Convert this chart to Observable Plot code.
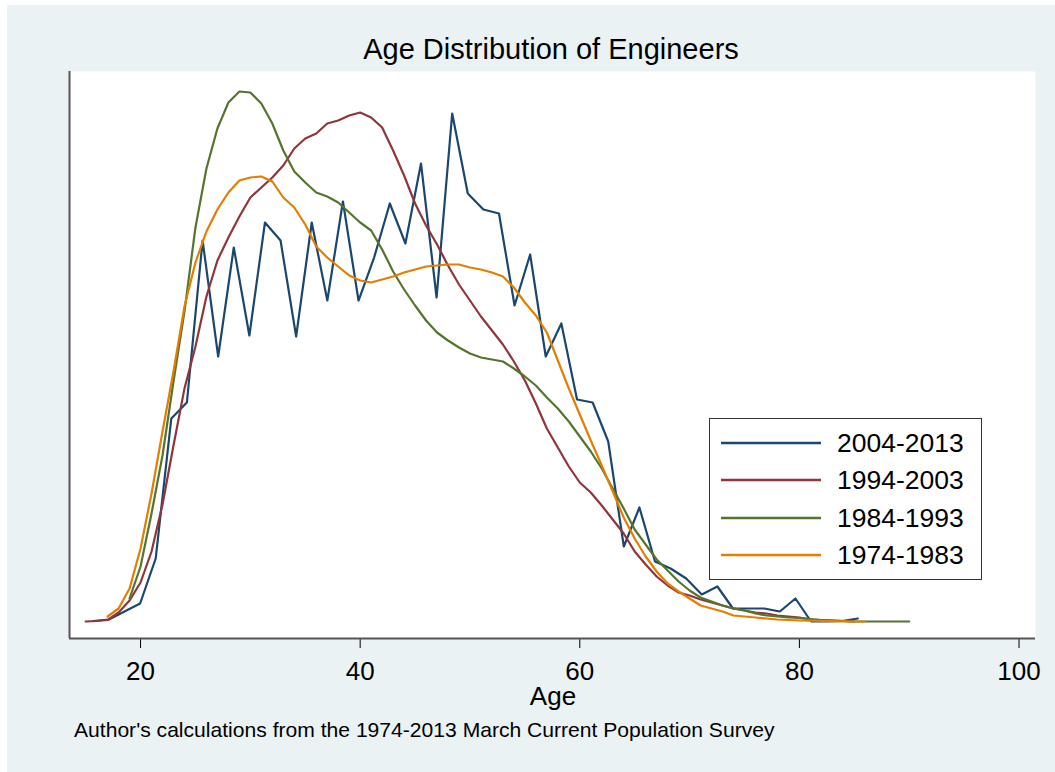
<!DOCTYPE html>
<html><head><meta charset="utf-8">
<script src="https://cdn.jsdelivr.net/npm/d3@7"></script>
<script src="https://cdn.jsdelivr.net/npm/@observablehq/plot@0.6"></script>
<style>
body{margin:0;background:#fff;font-family:"Liberation Sans",Arial,sans-serif;}
#wrap{position:relative;width:1055px;height:772px;overflow:hidden;}
#bg{position:absolute;left:7px;top:5px;right:0;bottom:0;background:#EAF2F3;}
#chart{position:absolute;left:0;top:0;}
.t{position:absolute;white-space:nowrap;line-height:1;color:#000;}
#legend{position:absolute;left:709px;top:418px;width:273px;height:162px;box-sizing:border-box;border:1.5px solid #333;background:#fff;}
#legend .sw{position:absolute;left:11px;width:100px;height:6px;}
#legend .lb{position:absolute;left:127px;font-size:26.5px;line-height:1;white-space:nowrap;}
</style></head>
<body><div id="wrap"><div id="bg"></div><div id="chart"></div>
<div class="t" id="title" style="left:0;width:1102px;text-align:center;top:35px;font-size:29px;">Age Distribution of Engineers</div>
<div class="t" id="xlab" style="left:0;width:1106px;text-align:center;top:683px;font-size:26px;">Age</div>
<div class="t" id="cap" style="left:74px;top:719px;font-size:21.1px;">Author's calculations from the 1974-2013 March Current Population Survey</div>
<div id="legend"></div>
</div>
<script>
// Series (kernel density of age, relative units)
const seriesNames = ["2004-2013", "1994-2003", "1984-1993", "1974-1983"];
const seriesColors = ["#1a476f", "#90353b", "#55752f", "#e37e00"];
const xTicks = [20, 40, 60, 80, 100];

// 2004-2013: 50 evaluation points
const agesA = [15.70,17.12,18.54,19.96,21.38,22.80,24.22,25.65,27.07,28.49,29.91,31.33,32.75,34.17,35.59,37.01,38.43,39.85,41.27,42.70,44.12,45.54,46.96,48.38,49.80,51.22,52.64,54.06,55.48,56.90,58.32,59.75,61.17,62.59,64.01,65.43,66.85,68.27,69.69,71.11,72.53,73.95,75.37,76.80,78.22,79.64,81.06,82.48,83.90,85.32];
const densA = [0.5,2,10,18,63,203,219,381,265,374,286,399,381,285,399,321,420,321,364,418,378,458,324,508,428,412,408,316,367,265,298,222,219,180,75,114,60,53,43,27,35,13,13,13,10,23,0,0,0.5,3];

// 1994-2003: ages 15..85
const startB = 15;
const densB = [0,0.5,1.5,9,21,39,70,117,176,233,275,325,361,384,405,424,434,444,456,473,483,488,498,501,506,509,504,494,471,446,418,396,377,356,337,321,305,291,277,260,241,218,193,174,155,139,129,116,102,88,70,57,45,36,29,26,22,19,16,13,11,9,8,6,5,4,2,1.5,1,0.5,0];

// 1984-1993: ages 19..90
const startC = 19;
const densC = [23,55,108,166,240,310,394,453,493,519,530,529,518,498,471,450,439,429,425,419,409,399,391,372,350,332,316,301,289,281,274,268,264,262,260,253,245,236,224,213,200,185,170,153,133,113,92,77,62,51,40,31,24,20,16,13,11,8,6,5,4,3.5,2.5,1.5,1,0.5,0,0,0,0,0,0];

// 1974-1983: ages 17..86
const startD = 17;
const densD = [5,13,33,73,128,190,250,315,359,390,412,429,441,444,445,440,424,414,397,375,364,355,346,341,339,342,345,349,352,355,356,357,357,354,352,349,345,334,319,306,289,261,233,207,181,156,130,104,83,65,50,38,30,23,16,13,10,6,5,4,3,2,1.5,1,0.8,0.6,0.4,0.2,0,0];

const toRows = (ages, vals) => vals.map((v, i) => ({age: ages[i], v}));
const seq = (start, vals) => vals.map((v, i) => ({age: start + i, v}));
const series = [toRows(agesA, densA), seq(startB, densB), seq(startC, densC), seq(startD, densD)];

const xDom = [13.53, 101.5];
const yDom = [-17, 550];

const chart = Plot.plot({
  width: 1055, height: 772,
  marginLeft: 69, marginRight: 20, marginTop: 71, marginBottom: 134,
  style: {background: "transparent", fontFamily: "Liberation Sans, Arial, sans-serif", color: "#000", overflow: "visible"},
  x: {domain: xDom},
  y: {domain: yDom, axis: null},
  marks: [
    Plot.frame({fill: "white", stroke: "none"}),
    Plot.axisX({ticks: xTicks, tickSize: 10, tickPadding: 13, fontSize: 26, label: null, tickFormat: d => String(d)}),
    Plot.ruleX([xDom[0]], {stroke: "#555", strokeWidth: 2}),
    Plot.ruleY([yDom[0]], {stroke: "#555", strokeWidth: 2}),
    ...series.map((s, i) => Plot.line(s, {x: "age", y: "v", stroke: seriesColors[i], strokeWidth: 2.2, curve: "linear"}))
  ]
});
document.getElementById("chart").appendChild(chart);

// legend
const lg = document.getElementById("legend");
seriesNames.forEach((name, i) => {
  const cy = 24 + i * 37.3;
  const sw = document.createElementNS("http://www.w3.org/2000/svg", "svg");
  sw.setAttribute("class", "sw");
  sw.setAttribute("width", "100"); sw.setAttribute("height", "6");
  sw.style.top = (cy - 3) + "px";
  sw.innerHTML = `<line x1="0" x2="100" y1="3" y2="3" stroke="${seriesColors[i]}" stroke-width="2.5"/>`;
  lg.appendChild(sw);
  const lb = document.createElement("div");
  lb.className = "lb";
  lb.style.top = (cy - 13) + "px";
  lb.textContent = name;
  lg.appendChild(lb);
});
</script>
</body></html>
